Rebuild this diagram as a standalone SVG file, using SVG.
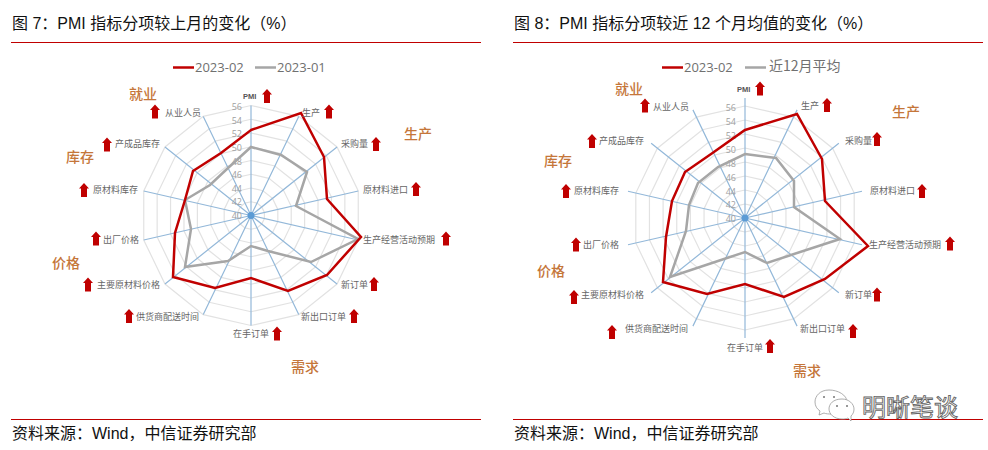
<svg xmlns="http://www.w3.org/2000/svg" xmlns:xlink="http://www.w3.org/1999/xlink" width="988" height="450" viewBox="0 0 988 450">
<style>
text{font-family:"Liberation Sans","Noto Sans CJK SC",sans-serif}
.title{font-size:16px;fill:#111}
.src{font-size:16px;fill:#111}
.lab{font-size:9px;fill:#666;font-family:"Noto Sans CJK SC",sans-serif}
.pmi{font-size:7.5px;font-weight:bold;fill:#555}
.tick{font-size:9px;fill:#a0a0a0;text-anchor:end;font-family:"Open Sans",sans-serif}
.cat{font-size:14px;fill:#c5763a;font-weight:500;font-family:"Noto Sans CJK SC",sans-serif}
.leg{font-size:13px;fill:#707070;font-family:"Open Sans",sans-serif}
.rule{stroke:#c00000;stroke-width:1.2;fill:none}
.ring{fill:none;stroke:#e2e2e2;stroke-width:1.2;vector-effect:non-scaling-stroke}
.spoke{fill:none;stroke:#93b8d9;stroke-width:1.2;vector-effect:non-scaling-stroke}
.red{fill:none;stroke:#c00000;stroke-width:2.5;stroke-linejoin:miter}
.gray{fill:none;stroke:#a6a6a6;stroke-width:2.5;stroke-linejoin:miter}
.arrow{fill:#c00000}
.dot{fill:#5b9bd5}
.mark{font-size:24px;fill:#fff;stroke:#666;stroke-width:.9;font-family:"Noto Sans CJK SC",sans-serif}
.wx{fill:#fff;stroke:#999;stroke-width:.8}
</style>
<defs>
<polygon id="ring" class="ring" points="0,-100 43.4,-90.1 78.2,-62.3 97.5,-22.3 97.5,22.3 78.2,62.3 43.4,90.1 0,100 -43.4,90.1 -78.2,62.3 -97.5,22.3 -97.5,-22.3 -78.2,-62.3 -43.4,-90.1"/>
<path id="spokes" class="spoke" d="M0 0L0 -100M0 0L43.4 -90.1M0 0L78.2 -62.3M0 0L97.5 -22.3M0 0L97.5 22.3M0 0L78.2 62.3M0 0L43.4 90.1M0 0L0 100M0 0L-43.4 90.1M0 0L-78.2 62.3M0 0L-97.5 22.3M0 0L-97.5 -22.3M0 0L-78.2 -62.3M0 0L-43.4 -90.1"/>
<path id="up" class="arrow" d="M0 -7L5 -1.5L3 -1.5L3 7L-3 7L-3 -1.5L-5 -1.5Z"/>
</defs>

<g id="figure-7-frame">
<text class="title" x="12" y="29" xml:space="preserve">图 7：PMI 指标分项较上月的变化（%）</text>
<line class="rule" x1="11" y1="42.5" x2="481" y2="42.5"/>
<line class="rule" x1="11" y1="419.5" x2="481" y2="419.5"/>
<text class="src" x="12" y="439">资料来源：Wind，中信证券研究部</text>
</g>
<g id="figure-8-frame">
<text class="title" x="514" y="29" xml:space="preserve">图 8：PMI 指标分项较近 12 个月均值的变化（%）</text>
<line class="rule" x1="513" y1="42.5" x2="983" y2="42.5"/>
<line class="rule" x1="513" y1="419.5" x2="983" y2="419.5"/>
<text class="src" x="514" y="439">资料来源：Wind，中信证券研究部</text>
</g>

<g id="chart-7-grid" transform="translate(251 215.5)">
<use href="#ring" transform="scale(.1375)"/>
<use href="#ring" transform="scale(.275)"/>
<use href="#ring" transform="scale(.4125)"/>
<use href="#ring" transform="scale(.55)"/>
<use href="#ring" transform="scale(.6875)"/>
<use href="#ring" transform="scale(.825)"/>
<use href="#ring" transform="scale(.9625)"/>
<use href="#ring" transform="scale(1.1)"/>
<use href="#spokes" transform="scale(1.1)"/>
<circle class="dot" r="3.5"/>
</g>
<g id="chart-7-ticks">
<text class="tick" x="242" y="110">56</text><text class="tick" x="242" y="124">54</text><text class="tick" x="242" y="137">52</text><text class="tick" x="242" y="151">50</text><text class="tick" x="242" y="165">48</text><text class="tick" x="242" y="178">46</text><text class="tick" x="242" y="192">44</text><text class="tick" x="242" y="205">42</text><text class="tick" x="242" y="219">40</text>
</g>
<g id="chart-8-grid" transform="translate(745 218)">
<use href="#ring" transform="scale(.14)"/>
<use href="#ring" transform="scale(.28)"/>
<use href="#ring" transform="scale(.42)"/>
<use href="#ring" transform="scale(.56)"/>
<use href="#ring" transform="scale(.7)"/>
<use href="#ring" transform="scale(.84)"/>
<use href="#ring" transform="scale(.98)"/>
<use href="#ring" transform="scale(1.12)"/>
<use href="#spokes" transform="scale(1.2)"/>
<circle class="dot" r="3.5"/>
</g>
<g id="chart-8-ticks">
<text class="tick" x="736" y="111">56</text><text class="tick" x="736" y="125">54</text><text class="tick" x="736" y="139">52</text><text class="tick" x="736" y="153">50</text><text class="tick" x="736" y="167">48</text><text class="tick" x="736" y="181">46</text><text class="tick" x="736" y="195">44</text><text class="tick" x="736" y="208">42</text><text class="tick" x="736" y="222">40</text>
</g>
<g id="connectors">
<polygon id="chart-7-2023-01" class="gray" points="251,147 281,155 307,172 296,206 358,239 311,262 268,251 251,246 228,261 185,267 191,229 185,200 210,185 228,168"/>
<polygon id="chart-7-2023-02" class="red" points="251,130 301,113 324,157 327,199 361,237 327,275 288,291 251,278 215,288 173,277 175,233 185,200 193,171 221,153"/>
<polygon id="chart-8-avg" class="gray" points="745,154 776,158 794,181 794,207 840,239 791,255 767,263 745,252 725.5,258.5 670,277 686,231 689,205 698,183 718,167"/>
<polygon id="chart-8-2023-02" class="red" points="745,130 797,114 822,159 825,201 868,246 825,279 784,297 745,284 707,294 663,282 666,237 672,201 685,172 712.5,153"/>
</g>
<g id="chart-7-legend">
<line x1="173" y1="67.5" x2="194" y2="67.5" stroke="#c00000" stroke-width="2.5"/>
<text class="leg" x="195" y="72">2023-02</text>
<line x1="255" y1="67.5" x2="276" y2="67.5" stroke="#a6a6a6" stroke-width="2.5"/>
<text class="leg" x="277" y="72">2023-01</text>
</g>
<g id="c7-pmi"><text class="pmi" x="243" y="99">PMI</text><use href="#up" x="267" y="96"/></g>
<g id="c7-shengchan"><text class="lab" x="302" y="116">生产</text><use href="#up" x="329" y="111.5"/></g>
<g id="c7-caigou"><text class="lab" x="341" y="147">采购量</text><use href="#up" x="376" y="144"/></g>
<g id="c7-jinkou"><text class="lab" x="363" y="193">原材料进口</text><use href="#up" x="416" y="189"/></g>
<g id="c7-yuqi"><text class="lab" x="363" y="243">生产经营活动预期</text><use href="#up" x="446" y="238.5"/></g>
<g id="c7-xindingdan"><text class="lab" x="341" y="288">新订单</text><use href="#up" x="374" y="284"/></g>
<g id="c7-xinchukou"><text class="lab" x="301" y="320">新出口订单</text><use href="#up" x="354" y="316"/></g>
<g id="c7-zaishou"><text class="lab" x="233" y="337">在手订单</text><use href="#up" x="277" y="333.5"/></g>
<g id="c7-peisong"><text class="lab" x="136" y="320">供货商配送时间</text><use href="#up" x="129" y="316"/></g>
<g id="c7-zhuyao"><text class="lab" x="97" y="288">主要原材料价格</text><use href="#up" x="88" y="284.5"/></g>
<g id="c7-chuchang"><text class="lab" x="103" y="243">出厂价格</text><use href="#up" x="96" y="238.5"/></g>
<g id="c7-yclkc"><text class="lab" x="93" y="193">原材料库存</text><use href="#up" x="84" y="190"/></g>
<g id="c7-ccpkc"><text class="lab" x="115" y="147">产成品库存</text><use href="#up" x="107" y="144.5"/></g>
<g id="c7-congye"><text class="lab" x="165" y="116">从业人员</text><use href="#up" x="155" y="111.5"/></g>
<g id="c7-cats">
<text class="cat" x="129" y="99">就业</text><text class="cat" x="66" y="162">库存</text><text class="cat" x="404" y="139">生产</text><text class="cat" x="52" y="268">价格</text><text class="cat" x="291" y="372">需求</text>
</g>

<g id="chart-8-legend">
<line x1="662" y1="67.5" x2="683" y2="67.5" stroke="#c00000" stroke-width="2.5"/>
<text class="leg" x="684" y="72">2023-02</text>
<line x1="745" y1="67.5" x2="766" y2="67.5" stroke="#a6a6a6" stroke-width="2.5"/>
<text class="leg" x="769" y="71" style="font-size:14px;font-family:'Noto Sans CJK SC',sans-serif">近12月平均</text>
</g>
<g id="c8-pmi"><text class="pmi" x="737" y="92">PMI</text><use href="#up" x="760" y="88.5"/></g>
<g id="c8-shengchan"><text class="lab" x="801" y="109">生产</text><use href="#up" x="827" y="105"/></g>
<g id="c8-caigou"><text class="lab" x="845" y="144">采购量</text><use href="#up" x="877" y="139"/></g>
<g id="c8-jinkou"><text class="lab" x="870" y="194">原材料进口</text><use href="#up" x="922" y="191"/></g>
<g id="c8-yuqi"><text class="lab" x="869" y="248">生产经营活动预期</text><use href="#up" x="950" y="243.5"/></g>
<g id="c8-xindingdan"><text class="lab" x="845" y="298">新订单</text><use href="#up" x="877" y="294.5"/></g>
<g id="c8-xinchukou"><text class="lab" x="800" y="332">新出口订单</text><use href="#up" x="853" y="331"/></g>
<g id="c8-zaishou"><text class="lab" x="727" y="351">在手订单</text><use href="#up" x="770" y="346"/></g>
<g id="c8-peisong"><text class="lab" x="625" y="332">供货商配送时间</text><use href="#up" x="612" y="332"/></g>
<g id="c8-zhuyao"><text class="lab" x="581" y="298">主要原材料价格</text><use href="#up" x="574" y="297"/></g>
<g id="c8-chuchang"><text class="lab" x="583" y="248">出厂价格</text><use href="#up" x="576" y="244.5"/></g>
<g id="c8-yclkc"><text class="lab" x="574" y="194">原材料库存</text><use href="#up" x="566" y="191"/></g>
<g id="c8-ccpkc"><text class="lab" x="599" y="144">产成品库存</text><use href="#up" x="592" y="141"/></g>
<g id="c8-congye"><text class="lab" x="653" y="110">从业人员</text><use href="#up" x="645" y="105.5"/></g>
<g id="c8-cats">
<text class="cat" x="615" y="94">就业</text><text class="cat" x="544" y="166">库存</text><text class="cat" x="892" y="117">生产</text><text class="cat" x="537" y="276">价格</text><text class="cat" x="793" y="376">需求</text>
</g>

<g id="watermark">
<path class="wx" d="M829 390C820 390 815 396 815 402C815 406 817 409 820 411L819 415L824 413C826 414 829 414 832 414C842 414 847 408 847 402C847 395 838 390 829 390Z"/>
<path class="wx" d="M842 399C833 399 829 404 829 409C829 414 834 419 842 419C844 419 846 419 848 418L851 421L851 416C853 414 854 412 854 409C854 404 849 399 842 399Z"/>
<circle cx="824" cy="397" r="1" fill="#777"/><circle cx="834" cy="397" r="1" fill="#777"/>
<circle cx="837" cy="406" r="1" fill="#777"/><circle cx="847" cy="406" r="1" fill="#777"/>
<text class="mark" x="862" y="416">明晰笔谈</text>
</g>
</svg>
